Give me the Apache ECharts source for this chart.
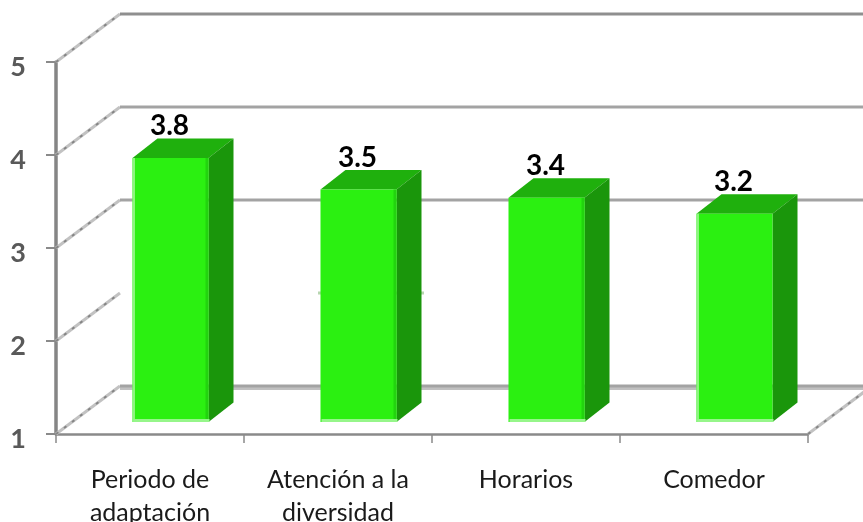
<!DOCTYPE html>
<html>
<head>
<meta charset="utf-8">
<style>html,body{margin:0;padding:0;background:#fff}#c{width:863px;height:522px}</style>
<script src="https://cdn.jsdelivr.net/npm/echarts@6/dist/echarts.min.js"></script>
</head>
<body>
<div id="c"></div>
<script>
const categories = ['Periodo de\nadaptación', 'Atención a la\ndiversidad', 'Horarios', 'Comedor'];
const values = [3.84, 3.5, 3.41, 3.24];
const yTicks = [1, 2, 3, 4, 5];

// 3D look (pixels)
const WALL_DX = 64, WALL_DY = 48;
const BAR_DX = 20.5, BAR_DY = 12, BAR_W = 76, DEPTH_X = 25, DEPTH_Y = 19.5;

function poly(points, fill) {
  return { type: 'polygon', shape: { points }, style: { fill }, silent: true };
}
function seg(x1, y1, x2, y2, stroke, lineWidth, lineDash) {
  return { type: 'line', shape: { x1, y1, x2, y2 },
    style: { stroke, lineWidth, lineDash: lineDash || null, fill: null }, silent: true };
}
function rect(x, y, width, height, fill) {
  return { type: 'rect', shape: { x, y, width, height }, style: { fill }, silent: true };
}

function renderWall(params, api) {
  const level = api.value(1);
  const p = api.coord([0, level]);
  const band = api.size([1, 0])[0];
  const x0 = p[0] - band / 2, y0 = p[1];
  const bx = x0 + WALL_DX, by = y0 - WALL_DY;
  const kids = [
    seg(x0, y0, bx, by, '#c2c2c2', 3),
    seg(x0, y0, bx, by, '#858585', 2, [3, 7])
  ];
  if (level === 2) {
    const c = api.coord([1, level]);
    kids.push(rect(c[0] - 20, by - 1.5, 106, 3, '#b7d6b0'));
  } else {
    if (level === 1) {
      const rx = x0 + band * categories.length;
      kids.push(rect(bx, by + 1, 863 - bx, 3, '#c0c0c0'));
      kids.push(seg(rx, y0, rx + WALL_DX, y0 - WALL_DY, '#c2c2c2', 3));
      kids.push(seg(rx, y0, rx + WALL_DX, y0 - WALL_DY, '#858585', 2, [3, 7]));
    }
    kids.push(rect(bx, by - 1.5, 863 - bx, 3, level === 5 ? '#8f8f8f' : '#a3a3a3'));
  }
  return { type: 'group', children: kids };
}

function renderBar(params, api) {
  const idx = api.value(0), v = api.value(1);
  const top = api.coord([idx, v]);
  const base = api.coord([idx, 1]);
  const l = top[0] + BAR_DX - BAR_W / 2, r = l + BAR_W;
  const t = top[1] - BAR_DY, b = base[1] - BAR_DY;
  const dx = DEPTH_X, dy = DEPTH_Y;
  const kids = [
    poly([[l, t], [l + dx, t - dy], [r + dx, t - dy], [r, t]], '#1fb00d'),
    poly([[r, t], [r + dx, t - dy], [r + dx, b - dy], [r, b]], '#1a960b'),
    rect(l, t, BAR_W, b - t, '#2bf011')
  ];
  if (idx === 0 || idx === 3) kids.push(rect(l, t, 2.5, b - t, '#8cf57e'));
  if (idx !== 3) kids.push(rect(r - 3, t, 3, b - t, '#22d40e'));
  kids.push(rect(l + 1, b - 3, BAR_W, 3, '#96f68a'));
  kids.push({ type: 'text', silent: true,
    style: { text: api.value(1).toFixed(1), x: (l + r) / 2 - 1, y: t - dy - 12, align: 'center', verticalAlign: 'middle',
      fill: '#000', font: 'bold 28px Lato' } });
  return { type: 'group', children: kids };
}

const chart = echarts.init(document.getElementById('c'), null, { renderer: 'canvas' });
chart.setOption({
  animation: false,
  backgroundColor: '#fff',
  grid: { left: 56, right: 55, top: 62, bottom: 88, containLabel: false, outerBoundsMode: 'none' },
  xAxis: {
    type: 'category', data: categories, boundaryGap: true,
    axisLine: { onZero: false, lineStyle: { color: '#8a8a8a', width: 2.5 } },
    axisTick: { show: true, length: 9, lineStyle: { color: '#8a8a8a', width: 1.5 } },
    axisLabel: { color: '#1a1a1a', fontFamily: 'Lato', fontSize: 25, lineHeight: 33, margin: 29, interval: 0 },
    splitLine: { show: false }
  },
  yAxis: {
    type: 'value', min: 1, max: 5, interval: 1,
    axisLine: { show: true, lineStyle: { color: '#858585', width: 3.5 } },
    axisTick: { show: true, length: 10, lineStyle: { color: '#8a8a8a', width: 2 } },
    axisLabel: { margin: 30, formatter: '{d|{value}}',
      rich: { d: { color: '#595959', fontFamily: 'Lato', fontWeight: 'bold', fontSize: 27, padding: [10, 0, 0, 0] } } },
    splitLine: { show: false }
  },
  series: [
    { type: 'custom', coordinateSystem: 'cartesian2d', renderItem: renderWall, z: 1, silent: true,
      encode: { x: 0, y: 1 }, data: yTicks.map(t => [0, t]) },
    { type: 'custom', coordinateSystem: 'cartesian2d', renderItem: renderBar, z: 3, silent: true,
      encode: { x: 0, y: 1 }, data: values.map((v, i) => [i, v]) }
  ]
});
</script>
</body>
</html>
